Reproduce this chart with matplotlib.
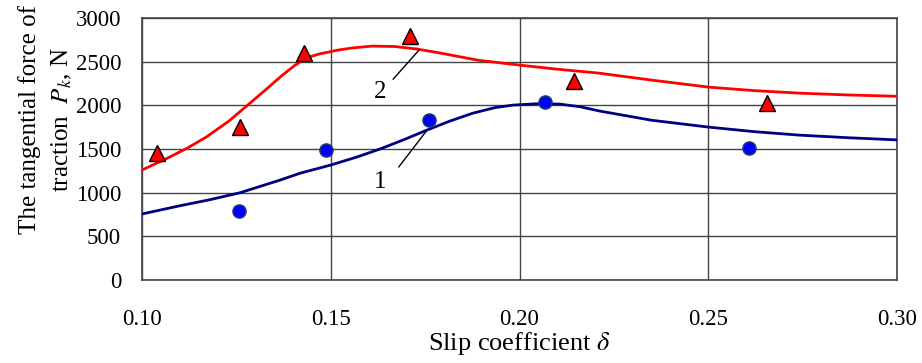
import matplotlib
matplotlib.use("Agg")
import matplotlib.pyplot as plt

plt.rcParams['font.family'] = ['Liberation Serif', 'DejaVu Serif']
plt.rcParams['mathtext.fontset'] = 'stix'

# Courbe 2 (rouge)
x_courbe2 = [0.100, 0.106, 0.112, 0.117, 0.123, 0.128, 0.1325, 0.137, 0.1405, 0.1435,
             0.147, 0.152, 0.156, 0.161, 0.167, 0.173, 0.179, 0.189, 0.200, 0.210,
             0.221, 0.235, 0.250, 0.262, 0.274, 0.287, 0.300]
y_courbe2 = [1260, 1380, 1511, 1637, 1820, 2004, 2170, 2340, 2460, 2545,
             2590, 2635, 2660, 2680, 2675, 2645, 2600, 2518, 2462, 2415,
             2370, 2290, 2210, 2170, 2141, 2120, 2105]

# Courbe 1 (bleue)
x_courbe1 = [0.100, 0.110, 0.118, 0.126, 0.1366, 0.142, 0.150, 0.157, 0.163, 0.1695,
             0.1755, 0.1815, 0.1877, 0.1935, 0.1983, 0.205, 0.2107, 0.2160, 0.2213, 0.235,
             0.250, 0.262, 0.274, 0.287, 0.300]
y_courbe1 = [756, 850, 920, 1000, 1145, 1225, 1317, 1410, 1500, 1610,
             1718, 1820, 1912, 1975, 2004, 2020, 2015, 1985, 1935, 1830,
             1752, 1700, 1660, 1630, 1605]

# Points expérimentaux
x_triangles = [0.104, 0.126, 0.143, 0.171, 0.2145, 0.2655]
y_triangles = [1450, 1755, 2595, 2800, 2285, 2025]
x_cercles = [0.1257, 0.1487, 0.176, 0.2068, 0.2608]
y_cercles = [790, 1489, 1832, 2038, 1511]

xticks = [0.10, 0.15, 0.20, 0.25, 0.30]
yticks = [0, 500, 1000, 1500, 2000, 2500, 3000]

fig = plt.figure(figsize=(9.22, 3.63), dpi=100)
ax = fig.add_axes([0.154, 0.2287, 0.819, 0.7213])

ax.plot(x_courbe2, y_courbe2, color='#FF0000', linewidth=2, zorder=3)
ax.plot(x_courbe1, y_courbe1, color='#000080', linewidth=2, zorder=3)
ax.plot(x_triangles, y_triangles, linestyle='none', marker='^', markersize=11,
        markerfacecolor='#FF0000', markeredgecolor='black', markeredgewidth=1, zorder=4)
ax.plot(x_cercles, y_cercles, linestyle='none', marker='o', markersize=9.5,
        markerfacecolor='#0000FF', markeredgecolor='#1F4060', markeredgewidth=1, zorder=4)

# Repères des courbes
ax.annotate('', xy=(0.1735, 2640), xytext=(0.1665, 2300),
            arrowprops=dict(arrowstyle='-', color='black', lw=1, shrinkA=0, shrinkB=0))
ax.text(0.1632, 2150, '2', fontsize=18, ha='center', va='center')
ax.annotate('', xy=(0.1752, 1700), xytext=(0.168, 1294),
            arrowprops=dict(arrowstyle='-', color='black', lw=1, shrinkA=0, shrinkB=0))
ax.text(0.1632, 1120, '1', fontsize=18, ha='center', va='center')

ax.set_xlim(0.10, 0.30)
ax.set_ylim(0, 3000)
ax.set_xticks(xticks)
ax.set_yticks(yticks)
ax.set_xticklabels(['%.2f' % v for v in xticks])
ax.tick_params(axis='both', length=0, labelsize=16.5)
ax.tick_params(axis='x', pad=21)
ax.tick_params(axis='y', pad=15)
ax.grid(True, color='#444444', linewidth=1)
ax.set_axisbelow(True)
for s in ax.spines.values():
    s.set_color('#444444')
    s.set_linewidth(1.2)

ax.set_xlabel(r'Slip coefficient $\delta$', fontsize=19, labelpad=0)
fig.text(0.050, 0.67, 'The tangential force of\ntraction  $P_k$, N', rotation=90,
         ha='center', va='center', multialignment='center', fontsize=18, linespacing=1.45)

fig.savefig('out.png', dpi=100)
